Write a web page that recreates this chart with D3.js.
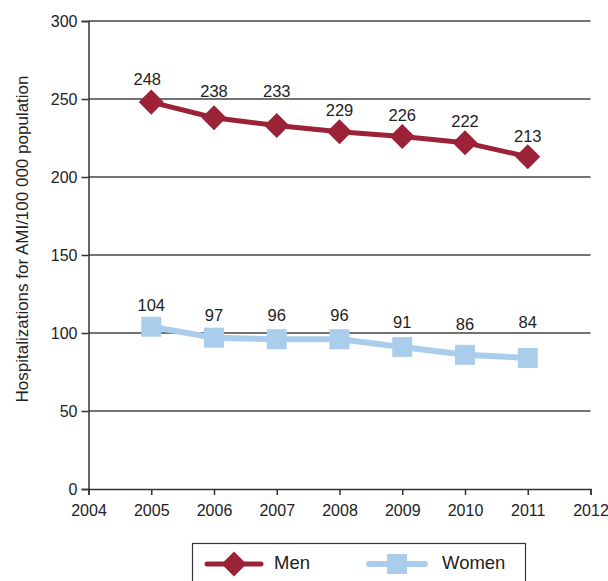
<!DOCTYPE html>
<html><head><meta charset="utf-8">
<script src="https://cdn.jsdelivr.net/npm/d3@7"></script>
<style>body{margin:0;background:#fff}svg{display:block}text{font-family:"Liberation Sans",Arial,sans-serif;fill:#222}</style>
</head><body><svg id="c" width="608" height="581"></svg>
<script>
const years = [2005, 2006, 2007, 2008, 2009, 2010, 2011];
const men = [248, 238, 233, 229, 226, 222, 213];
const women = [104, 97, 96, 96, 91, 86, 84];
const xTicks = [2004, 2005, 2006, 2007, 2008, 2009, 2010, 2011, 2012];
const yTicks = [0, 50, 100, 150, 200, 250, 300];
const yLabel = "Hospitalizations for AMI/100 000 population";
const seriesNames = ["Men", "Women"];

// layout: label lift above each marker (px)
const menLabelLift = [17, 21, 29, 16, 15, 16, 15];
const womenLabelLift = [16, 17, 18, 18, 19, 25, 30];

const svg = d3.select("#c");
const L = 88.5, R = 590.5, T = 21, B = 489;
const x = d3.scaleLinear().domain([2004, 2012]).range([L, R]);
const y = d3.scaleLinear().domain([0, 300]).range([B, T]);
const menColor = "#9b2237", womenColor = "#abcdec";

// grid
svg.append("g").selectAll("line").data(yTicks.filter(d => d > 0)).join("line")
  .attr("x1", L).attr("x2", R).attr("y1", d => y(d)).attr("y2", d => y(d))
  .attr("stroke", "#444").attr("stroke-width", 1.5);

// axes
const ya = svg.append("g").attr("transform", `translate(${L},0)`)
  .call(d3.axisLeft(y).tickValues(yTicks).tickSize(7).tickPadding(4).tickFormat(d3.format("d")));
const xa = svg.append("g").attr("transform", `translate(0,${B})`)
  .call(d3.axisBottom(x).tickValues(xTicks).tickSize(6).tickPadding(10).tickFormat(d3.format("d")));
[ya, xa].forEach(a => {
  a.select(".domain").attr("stroke", "#333").attr("stroke-width", 1.5);
  a.selectAll(".tick line").attr("stroke", "#333").attr("stroke-width", 1.5);
  a.selectAll(".tick text").attr("font-size", 16).attr("fill", "#222")
    .attr("font-family", '"Liberation Sans",Arial,sans-serif');
});

svg.append("text").attr("transform", `translate(28,${(T + B) / 2 - 16}) rotate(-90)`)
  .attr("text-anchor", "middle").attr("font-size", 17).text(yLabel);

const line = d3.line().x((d, i) => x(years[i])).y(d => y(d));

// women
svg.append("path").datum(women).attr("d", line).attr("fill", "none")
  .attr("stroke", womenColor).attr("stroke-width", 6);
svg.append("g").selectAll("rect").data(women).join("rect")
  .attr("x", (d, i) => x(years[i]) - 10).attr("y", d => y(d) - 10)
  .attr("width", 20).attr("height", 20).attr("fill", womenColor);
svg.append("g").selectAll("text").data(women).join("text")
  .attr("x", (d, i) => x(years[i])).attr("y", (d, i) => y(d) - womenLabelLift[i])
  .attr("text-anchor", "middle").attr("font-size", 16.5).text(d => d);

// men
svg.append("path").datum(men).attr("d", line).attr("fill", "none")
  .attr("stroke", menColor).attr("stroke-width", 5);
const dia = d3.symbol().type(d3.symbolSquare).size(313);
svg.append("g").selectAll("path").data(men).join("path")
  .attr("d", dia)
  .attr("transform", (d, i) => `translate(${x(years[i])},${y(d)}) rotate(45)`)
  .attr("fill", menColor);
svg.append("g").selectAll("text").data(men).join("text")
  .attr("x", (d, i) => x(years[i]) - (i === 0 ? 4 : 0)).attr("y", (d, i) => y(d) - menLabelLift[i])
  .attr("text-anchor", "middle").attr("font-size", 16.5).text(d => d);

// legend
const lg = svg.append("g");
lg.append("rect").attr("x", 192.5).attr("y", 543.5).attr("width", 333).attr("height", 60)
  .attr("fill", "#fff").attr("stroke", "#333").attr("stroke-width", 1.2);
lg.append("line").attr("x1", 207).attr("x2", 261).attr("y1", 564).attr("y2", 564)
  .attr("stroke", menColor).attr("stroke-width", 5).attr("stroke-linecap", "round");
lg.append("path").attr("d", dia).attr("transform", "translate(234,564) rotate(45)").attr("fill", menColor);
lg.append("text").attr("x", 274).attr("y", 569).attr("font-size", 18.5).text(seriesNames[0]);
lg.append("line").attr("x1", 369).attr("x2", 425).attr("y1", 564).attr("y2", 564)
  .attr("stroke", womenColor).attr("stroke-width", 6).attr("stroke-linecap", "round");
lg.append("rect").attr("x", 387).attr("y", 554).attr("width", 20).attr("height", 20).attr("fill", womenColor);
lg.append("text").attr("x", 442).attr("y", 569).attr("font-size", 18.5).text(seriesNames[1]);
</script></body></html>
